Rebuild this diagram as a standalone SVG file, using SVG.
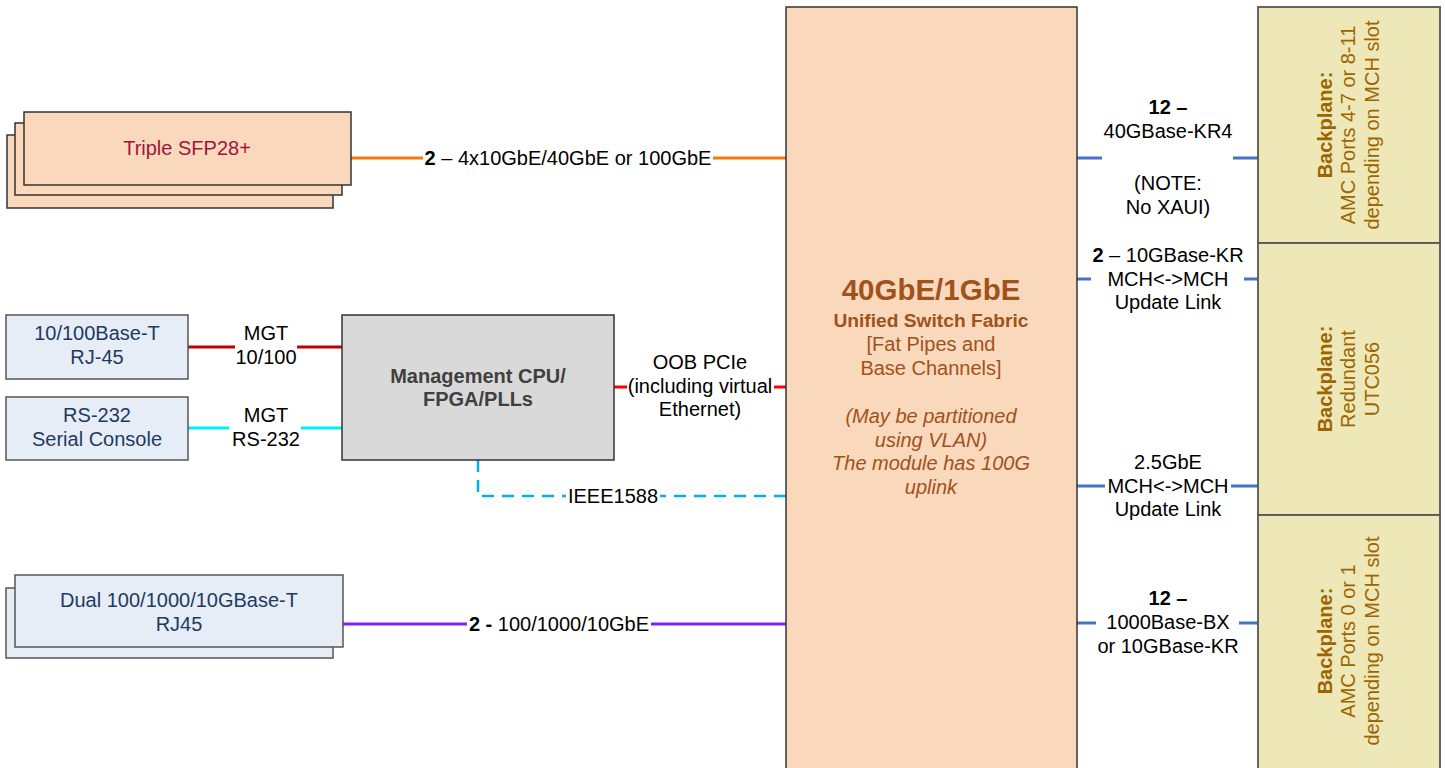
<svg xmlns="http://www.w3.org/2000/svg" width="1445" height="768" viewBox="0 0 1445 768">
<defs>
<style>
text{font-family:"Liberation Sans",Arial,sans-serif;font-size:20px;text-anchor:middle;fill:#000}
.b{font-weight:bold}
.navy{fill:#1F3A60}
.fab{fill:#A0521D}
.bp{fill:#9C6500}
.peach{fill:#FAD8BB;stroke:#333;stroke-width:1.5}
.blue{fill:#E6EDF7;stroke:#555;stroke-width:1.5}
.yel{fill:#EEE8B9;stroke:#555;stroke-width:1.8}
.ln{fill:none;stroke-width:3}
</style>
</defs>
<rect width="1445" height="768" fill="#fff"/>

<g id="connectors">
<path class="ln" stroke="#F07A10" d="M351 158H423M713 158H786"/>
<path class="ln" stroke="#C00000" d="M188 347H235M297 347H342"/>
<path class="ln" stroke="#00F0F0" d="M188 428H229M301 428H342"/>
<path class="ln" stroke="#FF0000" d="M614 387H627M774 387H786"/>
<path fill="none" stroke="#00B0F0" stroke-width="2.5" stroke-dasharray="12 8" d="M478 460V496H566"/>
<path fill="none" stroke="#00B0F0" stroke-width="2.5" stroke-dasharray="12 8" d="M786 496H660"/>
<path class="ln" stroke="#7F22FF" d="M343 624H467M651 624H786"/>
<path class="ln" stroke="#4472C4" d="M1077 158H1102M1233 158H1258"/>
<path class="ln" stroke="#4472C4" d="M1077 279H1091M1244 279H1258"/>
<path class="ln" stroke="#4472C4" d="M1077 486H1105M1231 486H1258"/>
<path class="ln" stroke="#4472C4" d="M1077 623H1096M1239 623H1258"/>
<g id="connector-labels">
<text x="568" y="165"><tspan class="b">2</tspan> – 4x10GbE/40GbE or 100GbE</text>
<text x="266" y="340">MGT</text>
<text x="266" y="364">10/100</text>
<text x="266" y="422">MGT</text>
<text x="266" y="446">RS-232</text>
<text x="700" y="369">OOB PCIe</text>
<text x="700" y="393">(including virtual</text>
<text x="700" y="416">Ethernet)</text>
<text x="613" y="503">IEEE1588</text>
<text x="559" y="631"><tspan class="b">2 -</tspan> 100/1000/10GbE</text>
<text x="1168" y="114" class="b">12 –</text>
<text x="1168" y="138">40GBase-KR4</text>
<text x="1168" y="190">(NOTE:</text>
<text x="1168" y="214">No XAUI)</text>
<text x="1168" y="262"><tspan class="b">2</tspan> – 10GBase-KR</text>
<text x="1168" y="286">MCH&lt;-&gt;MCH</text>
<text x="1168" y="309">Update Link</text>
<text x="1168" y="469">2.5GbE</text>
<text x="1168" y="493">MCH&lt;-&gt;MCH</text>
<text x="1168" y="516">Update Link</text>
<text x="1168" y="605" class="b">12 –</text>
<text x="1168" y="629">1000Base-BX</text>
<text x="1168" y="653">or 10GBase-KR</text>
</g>
</g>

<g id="sfp">
<rect class="peach" x="7" y="135" width="326" height="73"/>
<rect class="peach" x="15" y="123" width="327" height="72"/>
<rect class="peach" x="24" y="112" width="327" height="73"/>
<text x="187" y="155" style="fill:#A3143C">Triple SFP28+</text>
</g>

<g id="rj45">
<rect class="blue" x="6" y="315" width="182" height="64"/>
<text x="97" y="340" class="navy">10/100Base-T</text>
<text x="97" y="364" class="navy">RJ-45</text>
</g>

<g id="rs232">
<rect class="blue" x="6" y="397" width="182" height="63"/>
<text x="97" y="422" class="navy">RS-232</text>
<text x="97" y="446" class="navy">Serial Console</text>
</g>

<g id="mgmt">
<rect x="342" y="315" width="272" height="145" fill="#D9D9D9" stroke="#333" stroke-width="1.5"/>
<text x="478" y="383" class="b" style="fill:#404040">Management CPU/</text>
<text x="478" y="406" class="b" style="fill:#404040">FPGA/PLLs</text>
</g>

<g id="dual">
<rect class="blue" x="6" y="588" width="327" height="70"/>
<rect class="blue" x="15" y="575" width="328" height="72"/>
<text x="179" y="607" class="navy">Dual 100/1000/10GBase-T</text>
<text x="179" y="631" class="navy">RJ45</text>
</g>

<g id="fabric">
<rect class="peach" x="786" y="7" width="291" height="780"/>
<text x="931" y="300" class="b fab" style="font-size:29.5px">40GbE/1GbE</text>
<text x="931" y="327" class="b fab" style="font-size:19.2px">Unified Switch Fabric</text>
<text x="931" y="351" class="fab">[Fat Pipes and</text>
<text x="931" y="375" class="fab">Base Channels]</text>
<text x="931" y="423" class="fab" font-style="italic">(May be partitioned</text>
<text x="931" y="447" class="fab" font-style="italic">using VLAN)</text>
<text x="931" y="470" class="fab" font-style="italic">The module has 100G</text>
<text x="931" y="494" class="fab" font-style="italic">uplink</text>
</g>

<g id="bp1">
<rect class="yel" x="1258" y="7" width="182" height="236"/>
<g transform="translate(1349 125) rotate(-90)">
<text x="0" y="-17" class="b bp">Backplane:</text>
<text x="0" y="6" class="bp">AMC Ports 4-7 or 8-11</text>
<text x="0" y="30" class="bp">depending on MCH slot</text>
</g>
</g>

<g id="bp2">
<rect class="yel" x="1258" y="243" width="182" height="272"/>
<g transform="translate(1349 379) rotate(-90)">
<text x="0" y="-17" class="b bp">Backplane:</text>
<text x="0" y="6" class="bp">Redundant</text>
<text x="0" y="30" class="bp">UTC056</text>
</g>
</g>

<g id="bp3">
<rect class="yel" x="1258" y="515" width="182" height="270"/>
<g transform="translate(1349 641) rotate(-90)">
<text x="0" y="-17" class="b bp">Backplane:</text>
<text x="0" y="6" class="bp">AMC Ports 0 or 1</text>
<text x="0" y="30" class="bp">depending on MCH slot</text>
</g>
</g>
</svg>
